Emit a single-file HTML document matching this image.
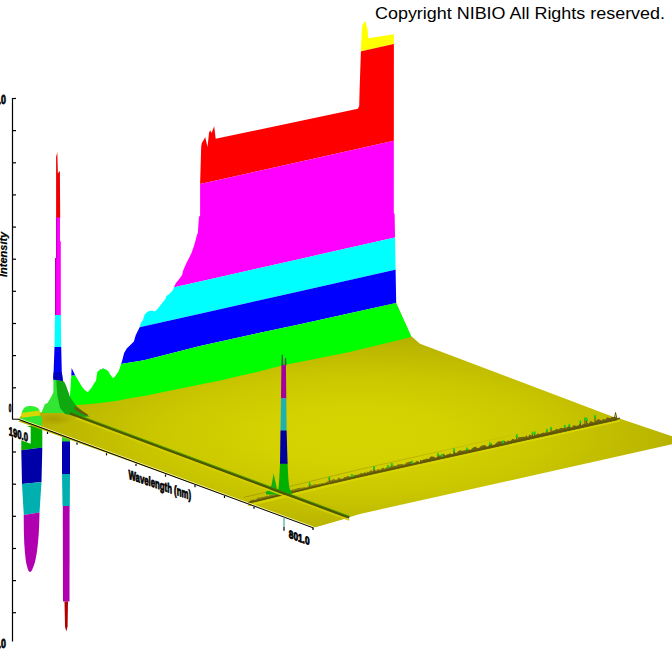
<!DOCTYPE html>
<html><head><meta charset="utf-8"><style>
html,body{margin:0;padding:0;background:#fff;width:672px;height:672px;overflow:hidden}
svg{display:block}
text{font-family:"Liberation Sans",sans-serif}
</style></head><body>
<svg width="672" height="672" viewBox="0 0 672 672">
<defs>
<clipPath id="wc"><polygon points="70.0,405.5 70.0,396.0 71.3,375.7 71.6,368.0 75.3,375.4 78.9,381.6 81.5,386.0 84.2,389.6 87.8,392.3 91.4,387.9 94.0,383.5 96.0,380.7 97.3,372.0 100.0,369.5 103.3,368.6 106.0,369.5 108.0,371.0 110.5,375.0 112.8,378.0 114.5,377.0 116.4,374.5 118.8,370.9 121.0,364.6 122.3,360.2 124.1,353.0 126.8,348.6 133.9,341.4 135.7,335.2 139.3,328.0 141.0,322.7 143.0,320.0 144.6,314.6 147.7,311.5 151.9,310.4 155.0,311.5 158.1,308.3 161.2,304.2 165.4,299.0 166.5,295.8 168.5,294.8 172.7,290.6 173.8,287.5 175.8,283.3 179.0,279.2 182.1,275.0 183.1,270.8 186.2,263.5 189.4,257.3 191.5,253.0 194.0,245.8 195.6,240.3 196.7,235.8 197.9,232.5 198.4,224.6 199.0,216.8 200.1,215.7 200.1,184.0 201.2,146.5 201.8,143.0 204.0,139.5 205.2,137.0 207.5,147.0 209.0,133.0 210.1,130.2 211.6,133.0 213.5,128.0 214.2,126.2 215.7,138.8 357.9,108.8 359.2,106.0 359.6,90.0 361.2,42.7 362.3,24.9 365.2,20.8 367.5,29.3 368.2,38.3 393.9,34.2 393.8,213.0 394.6,214.0 396.2,303.0 411.2,336.2 409.5,337.6 347.3,352.4 281.8,365.5 260.0,371.3 240.2,375.8 221.4,380.3 200.0,384.5 144.0,396.0 129.5,398.3 117.6,400.7 99.7,403.1 87.8,404.3 70.0,405.5"/></clipPath>
<radialGradient id="fg" cx="355" cy="435" r="400" gradientUnits="userSpaceOnUse" gradientTransform="matrix(1 0 0 0.2975 0 305.6)">
<stop offset="0.00" stop-color="#d6d400"/><stop offset="0.25" stop-color="#d3d100"/><stop offset="0.50" stop-color="#cac700"/><stop offset="0.75" stop-color="#bbb600"/><stop offset="1.00" stop-color="#a69f00"/>
</radialGradient>
<linearGradient id="fsg" x1="40" y1="0" x2="340" y2="0" gradientUnits="userSpaceOnUse"><stop offset="0" stop-color="#c2bc00"/><stop offset="0.5" stop-color="#ccc800"/><stop offset="1" stop-color="#d2ce00"/></linearGradient>
<linearGradient id="flg" x1="244" y1="0" x2="560" y2="0" gradientUnits="userSpaceOnUse"><stop offset="0" stop-color="#a09800" stop-opacity="0.75"/><stop offset="0.5" stop-color="#a09800" stop-opacity="0.5"/><stop offset="1" stop-color="#a09800" stop-opacity="0"/></linearGradient>
<radialGradient id="og"><stop offset="0" stop-color="#a89800" stop-opacity="0.85"/><stop offset="0.6" stop-color="#b0a400" stop-opacity="0.5"/><stop offset="1" stop-color="#b8b000" stop-opacity="0"/></radialGradient>
</defs>
<rect width="672" height="672" fill="#fff"/>
<text x="375" y="18.6" font-size="16.5" fill="#000" textLength="290" lengthAdjust="spacingAndGlyphs">Copyright NIBIO All Rights reserved.</text>
<polygon fill="#00b000" points="21.3,426.0 42.3,426.0 42.3,447.4 21.3,450.3"/><polygon fill="#0000a8" points="21.3,450.3 42.3,447.4 41.5,482.0 22.0,484.0"/><polygon fill="#00b0b0" points="22.0,484.0 41.5,482.0 39.5,512.5 23.8,515.0"/><path d="M23.75,515 L39.5,512.5 Q39,545 35,562 Q32,572 30,572 Q28,572 26,562 Q23.5,545 23.75,515 Z" fill="#b000b0"/><polygon fill="#0000b0" points="62.0,441.0 70.0,441.0 70.0,474.0 62.0,474.0"/><polygon fill="#00b0b0" points="62.0,474.0 70.0,474.0 69.8,506.0 62.5,506.0"/><polygon fill="#b000b0" points="62.8,506.0 69.6,506.0 69.5,601.5 63.0,601.5"/><polygon fill="#b00000" points="64.5,601.5 68.0,601.5 67.6,626.5 66.3,631.5 65.0,626.5"/><polygon fill="#30d030" points="62.0,436.0 70.0,436.0 70.0,441.5 62.0,441.5"/>
<polygon fill="url(#fg)" points="18.0,419.2 315.0,527.3 360.0,513.9 672.0,444.3 672.0,436.3 621.7,419.2 615.0,417.5 420.0,343.8 411.0,336.0 396.0,303.0 200.0,350.0 84.0,398.0 44.0,411.0 40.0,412.5 22.0,415.0"/>
<polygon fill="url(#fg)" points="18.0,421.2 315.0,527.3 349.3,517.6 60.0,409.6"/>

<g clip-path="url(#wc)"><polygon fill="#ffff00" points="40.0,-5.0 60.0,-5.0 76.0,-5.0 100.0,-5.0 122.3,-5.0 144.0,-5.0 200.0,-5.0 252.0,-5.0 300.0,-5.0 396.2,-5.0 430.0,-5.0 430.0,35.8 396.2,43.4 300.0,65.1 252.0,76.0 200.0,87.7 144.0,100.4 122.3,105.3 100.0,110.3 76.0,115.8 60.0,119.4 40.0,123.9"/><polygon fill="#ff0000" points="40.0,123.9 60.0,119.4 76.0,115.8 100.0,110.3 122.3,105.3 144.0,100.4 200.0,87.7 252.0,76.0 300.0,65.1 396.2,43.4 430.0,35.8 430.0,132.6 396.2,140.2 300.0,161.7 252.0,172.5 200.0,184.1 144.0,196.7 122.3,201.5 100.0,206.5 76.0,211.9 60.0,215.5 40.0,220.0"/><polygon fill="#ff00ff" points="40.0,220.0 60.0,215.5 76.0,211.9 100.0,206.5 122.3,201.5 144.0,196.7 200.0,184.1 252.0,172.5 300.0,161.7 396.2,140.2 430.0,132.6 430.0,229.6 396.2,237.2 300.0,258.9 252.0,269.7 200.0,281.4 144.0,294.0 122.3,298.9 100.0,304.0 76.0,309.4 60.0,313.0 40.0,317.5"/><polygon fill="#00ffff" points="40.0,317.5 60.0,313.0 76.0,309.4 100.0,304.0 122.3,298.9 144.0,294.0 200.0,281.4 252.0,269.7 300.0,258.9 396.2,237.2 430.0,229.6 430.0,261.9 396.2,269.5 300.0,291.2 252.0,302.0 200.0,313.7 144.0,326.3 122.3,331.2 100.0,336.2 76.0,341.7 60.0,345.3 40.0,349.8"/><polygon fill="#0000ff" points="40.0,349.8 60.0,345.3 76.0,341.7 100.0,336.2 122.3,331.2 144.0,326.3 200.0,313.7 252.0,302.0 300.0,291.2 396.2,269.5 430.0,261.9 430.0,296.0 396.2,303.1 300.0,324.2 252.0,334.5 200.0,346.0 144.0,360.2 122.3,363.8 100.0,369.4 76.0,375.5 60.0,376.0 40.0,376.6"/><polygon fill="#00ff00" points="40.0,376.6 60.0,376.0 76.0,375.5 100.0,369.4 122.3,363.8 144.0,360.2 200.0,346.0 252.0,334.5 300.0,324.2 396.2,303.1 430.0,296.0 430.0,700.0 396.2,700.0 300.0,700.0 252.0,700.0 200.0,700.0 144.0,700.0 122.3,700.0 100.0,700.0 76.0,700.0 60.0,700.0 40.0,700.0"/></g>
<ellipse cx="54" cy="419" rx="20" ry="7" fill="url(#og)"/><polygon fill="#33e633" points="53.4,379.8 58.0,379.8 59.0,392.0 62.0,405.0 64.0,413.0 41.4,413.0 43.1,408.4 44.9,404.0 47.6,403.0 51.2,396.8 53.4,392.3"/><polygon fill="#10a810" points="56.5,380.0 62.5,380.5 64.2,381.8 66.0,385.4 67.6,389.9 68.9,393.4 69.6,396.1 71.7,399.5 76.2,405.7 83.3,412.0 89.6,416.4 80.0,417.0 65.0,414.0 60.0,408.0 57.5,396.0 56.5,385.0"/><polygon fill="#6a5a10" points="74.4,406.6 80.0,409.5 87.8,414.6 87.0,416.2 80.0,412.7 74.0,408.7"/>
<polygon fill="#ee0000" points="56.1,218.0 56.1,157.0 57.3,152.1 57.9,173.6 59.3,171.0 59.9,172.0 60.2,218.0"/><polygon fill="#ff00ff" points="56.1,217.5 60.0,217.5 60.0,241.2 60.8,241.2 60.8,315.5 55.0,315.5 55.0,258.0 56.1,258.0"/><polygon fill="#00ffff" points="55.0,315.0 60.8,315.0 61.2,347.5 54.5,347.5"/><line x1="55.6" y1="258" x2="55.6" y2="315" stroke="#b000b0" stroke-width="1.1"/><line x1="56.6" y1="218" x2="56.6" y2="258" stroke="#c000c0" stroke-width="1"/><polygon fill="#0000f0" points="54.5,347.0 61.2,347.0 61.8,372.0 63.0,381.2 53.2,378.6 53.6,372.0"/><polygon fill="#0000b8" points="53.6,372.5 61.8,372.5 62.8,380.8 53.2,379.8"/>
<path d="M21.9,412 Q24,405 30.4,406 Q37,406 39.3,409.7 L40,414 L22,416 Z" fill="#2ef02e"/><polygon fill="#d8d800" points="21.0,413.0 39.5,410.5 40.0,416.0 22.0,418.0"/><polygon fill="#33e633" points="20.0,418.0 40.0,415.5 42.0,418.0 42.0,426.0 22.0,421.0"/>
<polygon fill="#8a8010" points="250.0,500.6 251.7,500.0 253.4,499.2 254.4,499.9 256.5,499.0 257.7,497.6 259.3,497.4 260.8,497.4 261.9,497.1 264.1,496.8 266.0,496.1 267.0,495.7 268.7,496.0 269.6,494.9 271.2,494.8 273.3,494.3 275.5,494.3 277.6,493.7 279.8,492.5 280.8,493.4 282.0,491.8 283.5,492.0 284.8,491.9 286.3,491.8 288.0,491.0 290.2,490.3 292.4,489.5 294.6,489.3 295.8,488.7 298.0,488.1 299.7,488.0 300.9,487.5 302.6,488.0 303.6,486.9 305.9,487.5 307.9,486.5 309.0,486.5 311.0,485.1 312.0,485.2 312.9,484.9 314.3,484.3 316.6,484.3 318.9,484.1 319.9,483.4 320.8,483.8 322.3,482.8 323.4,483.4 325.5,482.5 327.8,481.0 329.2,481.4 330.0,484.1 250.0,503.2"/><polygon fill="#7a7012" points="330.0,480.5 331.7,480.3 333.5,479.0 335.1,479.8 337.0,479.7 338.3,477.8 340.0,478.4 340.9,478.4 342.6,478.9 344.4,477.1 345.3,476.9 346.9,476.4 348.3,476.0 350.2,477.1 351.2,475.4 353.5,475.8 355.0,474.7 356.3,474.9 357.7,474.5 359.4,474.3 360.8,472.9 361.8,473.2 363.7,473.3 364.9,471.9 366.2,473.0 367.7,471.6 368.7,472.2 370.1,470.7 371.6,470.3 372.7,471.2 374.5,469.6 376.1,470.7 377.1,469.8 378.3,469.0 380.4,469.9 381.7,468.2 383.5,467.8 384.9,469.0 386.2,467.2 387.4,467.9 388.9,467.5 390.4,466.0 391.5,467.8 393.7,465.4 396.0,465.9 398.2,464.3 399.5,464.4 401.5,464.1 403.2,464.6 404.5,464.4 405.5,463.4 406.8,462.6 407.8,462.2 409.7,461.7 411.8,461.3 413.5,462.9 415.5,462.1 416.8,460.7 418.4,460.9 420.0,463.9 330.0,484.3"/><polygon fill="#6e6212" points="420.0,459.8 421.4,460.5 423.5,459.4 425.5,459.3 426.7,458.5 428.7,459.1 430.7,456.5 432.7,456.4 433.6,456.7 435.8,457.8 437.0,457.0 438.7,456.2 440.2,454.8 441.1,456.6 442.2,456.2 443.2,453.6 445.3,455.6 446.9,454.6 448.2,454.2 450.1,453.2 451.5,454.0 452.8,453.9 454.5,451.8 455.9,453.3 457.1,452.2 458.8,450.7 460.3,450.3 462.0,450.9 463.5,450.5 465.3,450.2 467.2,449.7 468.5,449.2 470.3,450.1 471.8,448.8 474.0,446.9 475.4,446.7 477.4,448.0 478.9,448.1 481.0,446.1 483.1,445.3 484.9,445.0 486.6,446.4 488.4,446.3 489.5,443.9 490.4,445.6 491.5,443.2 492.6,445.3 494.7,444.6 496.8,442.6 498.8,441.3 500.6,441.4 501.5,441.2 503.1,441.0 504.2,440.7 506.4,442.1 507.7,440.4 509.8,440.9 510.9,440.6 512.7,438.8 514.2,439.6 515.6,439.3 517.1,439.7 518.7,436.9 520.2,437.2 521.3,437.1 523.3,436.7 524.9,436.9 526.7,435.3 527.8,437.3 529.7,434.6 531.4,435.5 533.3,435.8 534.5,435.5 536.3,434.8 537.5,433.5 539.7,434.1 541.6,433.3 543.7,432.4 545.0,433.1 545.9,432.2 547.3,432.7 548.8,432.0 550.7,432.1 553.0,430.6 554.8,430.3 556.8,428.8 558.5,429.4 560.4,427.9 561.9,427.9 564.1,428.2 565.3,428.6 567.3,426.9 569.5,425.9 570.7,427.5 572.0,427.2 573.9,424.9 576.0,426.1 578.2,425.5 579.6,424.0 580.7,425.6 582.7,424.6 584.1,423.4 586.0,424.6 587.3,423.1 588.9,423.4 590.6,420.9 592.1,421.8 593.2,422.3 595.0,422.3 597.1,419.6 598.2,419.3 599.6,419.5 601.6,420.4 603.4,419.0 605.4,419.6 607.4,417.2 609.2,418.0 610.3,417.9 611.7,416.9 613.5,417.0 614.7,416.5 616.5,417.4 617.0,420.4 420.0,464.1"/>
<polyline points="248,505.5 360,478.5 620,420.8" stroke="#dad600" stroke-width="1.6" fill="none"/>
<polyline points="248,502.8 360,476 620,418.3" stroke="#5e5600" stroke-width="1.6" fill="none"/>
<polyline points="614.5,418.6 615.5,412.5 617,419" stroke="#5e5600" stroke-width="1" fill="none"/>
<polyline points="244,497.4 360,469.3 560,424.3" stroke="url(#flg)" stroke-width="1" fill="none"/>
<line x1="309.6" y1="486.8" x2="309.6" y2="483.8" stroke="#5a5410" stroke-width="1.1"/><polygon fill="#20c820" points="308.3,485.0 309.0,482.4 309.6,481.8 310.2,482.4 310.9,485.0"/><line x1="329.3" y1="482.1" x2="329.3" y2="478.1" stroke="#5a5410" stroke-width="1.1"/><polygon fill="#20c820" points="328.0,479.3 328.7,476.7 329.3,476.1 329.9,476.7 330.6,479.3"/><line x1="352.0" y1="476.7" x2="352.0" y2="475.7" stroke="#5a5410" stroke-width="1.1"/><polygon fill="#20c820" points="350.7,476.9 351.4,474.3 352.0,473.7 352.6,474.3 353.3,476.9"/><line x1="374.0" y1="471.7" x2="374.0" y2="467.7" stroke="#5a5410" stroke-width="1.1"/><polygon fill="#20c820" points="372.7,468.9 373.4,466.3 374.0,465.7 374.6,466.3 375.3,468.9"/><line x1="388.0" y1="468.6" x2="388.0" y2="466.6" stroke="#5a5410" stroke-width="1.1"/><polygon fill="#20c820" points="386.7,467.8 387.4,465.2 388.0,464.6 388.6,465.2 389.3,467.8"/><line x1="391.8" y1="467.7" x2="391.8" y2="464.7" stroke="#5a5410" stroke-width="1.1"/><polygon fill="#20c820" points="390.5,465.9 391.2,463.3 391.8,462.7 392.4,463.3 393.1,465.9"/><line x1="412.0" y1="463.3" x2="412.0" y2="462.3" stroke="#5a5410" stroke-width="1.1"/><polygon fill="#20c820" points="410.7,463.5 411.4,460.9 412.0,460.3 412.6,460.9 413.3,463.5"/><line x1="438.0" y1="457.5" x2="438.0" y2="454.5" stroke="#5a5410" stroke-width="1.1"/><polygon fill="#20c820" points="436.7,455.7 437.4,453.1 438.0,452.5 438.6,453.1 439.3,455.7"/><line x1="442.0" y1="456.6" x2="442.0" y2="455.6" stroke="#5a5410" stroke-width="1.1"/><polygon fill="#20c820" points="440.7,456.8 441.4,454.2 442.0,453.6 442.6,454.2 443.3,456.8"/><line x1="454.0" y1="453.9" x2="454.0" y2="449.9" stroke="#5a5410" stroke-width="1.1"/><polygon fill="#20c820" points="452.7,451.1 453.4,448.5 454.0,447.9 454.6,448.5 455.3,451.1"/><line x1="466.8" y1="451.1" x2="466.8" y2="449.1" stroke="#5a5410" stroke-width="1.1"/><polygon fill="#20c820" points="465.5,450.3 466.2,447.7 466.8,447.1 467.4,447.7 468.1,450.3"/><line x1="490.0" y1="445.9" x2="490.0" y2="443.9" stroke="#5a5410" stroke-width="1.1"/><polygon fill="#20c820" points="488.7,445.1 489.4,442.6 490.0,441.9 490.6,442.6 491.3,445.1"/><line x1="503.0" y1="443.1" x2="503.0" y2="442.1" stroke="#5a5410" stroke-width="1.1"/><polygon fill="#20c820" points="501.7,443.3 502.4,440.7 503.0,440.1 503.6,440.7 504.3,443.3"/><line x1="516.8" y1="440.0" x2="516.8" y2="436.0" stroke="#5a5410" stroke-width="1.1"/><polygon fill="#20c820" points="515.5,437.2 516.2,434.6 516.8,434.0 517.4,434.6 518.1,437.2"/><line x1="532.5" y1="436.5" x2="532.5" y2="433.5" stroke="#5a5410" stroke-width="1.1"/><polygon fill="#20c820" points="531.2,434.7 531.9,432.1 532.5,431.5 533.1,432.1 533.8,434.7"/><line x1="534.7" y1="436.0" x2="534.7" y2="433.0" stroke="#5a5410" stroke-width="1.1"/><polygon fill="#20c820" points="533.4,434.2 534.1,431.6 534.7,431.0 535.3,431.6 536.0,434.2"/><line x1="547.0" y1="433.3" x2="547.0" y2="430.3" stroke="#5a5410" stroke-width="1.1"/><polygon fill="#20c820" points="545.7,431.5 546.4,428.9 547.0,428.3 547.6,428.9 548.3,431.5"/><line x1="551.0" y1="432.4" x2="551.0" y2="428.4" stroke="#5a5410" stroke-width="1.1"/><polygon fill="#20c820" points="549.7,429.6 550.4,427.0 551.0,426.4 551.6,427.0 552.3,429.6"/><line x1="564.8" y1="429.4" x2="564.8" y2="426.4" stroke="#5a5410" stroke-width="1.1"/><polygon fill="#20c820" points="563.5,427.6 564.2,425.0 564.8,424.4 565.4,425.0 566.1,427.6"/><line x1="569.3" y1="428.4" x2="569.3" y2="425.4" stroke="#5a5410" stroke-width="1.1"/><polygon fill="#20c820" points="568.0,426.6 568.7,424.0 569.3,423.4 569.9,424.0 570.6,426.6"/><line x1="580.4" y1="425.9" x2="580.4" y2="421.9" stroke="#5a5410" stroke-width="1.1"/><polygon fill="#20c820" points="579.1,423.1 579.8,420.5 580.4,419.9 581.0,420.5 581.7,423.1"/><line x1="585.0" y1="424.9" x2="585.0" y2="418.9" stroke="#5a5410" stroke-width="1.1"/><polygon fill="#20c820" points="583.7,420.1 584.4,417.5 585.0,416.9 585.6,417.5 586.3,420.1"/><line x1="586.7" y1="424.5" x2="586.7" y2="419.5" stroke="#5a5410" stroke-width="1.1"/><polygon fill="#20c820" points="585.4,420.7 586.1,418.1 586.7,417.5 587.3,418.1 588.0,420.7"/><line x1="595.0" y1="422.6" x2="595.0" y2="416.6" stroke="#5a5410" stroke-width="1.1"/><polygon fill="#20c820" points="593.7,417.8 594.4,415.2 595.0,414.6 595.6,415.2 596.3,417.8"/>
<polyline points="282,365.5 282.3,354.7 282.8,365" stroke="#406040" stroke-width="1.2" fill="none"/><polyline points="285,365.5 285.5,358 286,365" stroke="#406040" stroke-width="1.2" fill="none"/><polygon fill="#a000a0" points="281.4,365.0 285.9,365.0 286.3,398.5 281.0,398.5"/><polygon fill="#20b0b0" points="281.0,398.2 286.3,398.2 286.6,430.8 280.5,430.8"/><polygon fill="#0000a0" points="280.5,430.6 286.6,430.6 287.6,463.9 280.0,463.9"/><polygon fill="#00b000" points="280.0,463.7 287.6,463.7 288.3,478.0 289.2,487.0 290.5,491.0 293.0,493.5 276.0,494.5 278.5,489.0 279.3,478.0"/><polygon fill="#10b010" points="266.0,492.0 270.0,489.5 271.8,484.0 273.6,473.5 275.2,481.0 277.0,489.0 279.0,492.0 279.0,494.5 266.0,494.5"/>
<polyline points="70,413.4 349.3,517.6" stroke="#505800" stroke-width="2.6" fill="none"/>
<polyline points="76,418.2 349.3,520.1" stroke="#d4d000" stroke-width="1.5" fill="none"/>
<polyline points="72,412.7 349.3,516.2" stroke="#30a000" stroke-width="0.9" fill="none" opacity="0.8"/>
<polygon fill="#ffffff" points="9.0,421.0 30.7,427.2 30.7,443.7 12.6,437.2 9.0,437.0"/>
<polyline points="18,418.2 313.6,527" stroke="#f4f0a0" stroke-width="1" fill="none"/>
<g stroke="#000" stroke-width="1.2" fill="none">
<line x1="12.5" y1="97.9" x2="12.5" y2="419.5"/>
<line x1="12.5" y1="437.2" x2="12.5" y2="641.5"/>
<line x1="12.5" y1="98.5" x2="16" y2="98.5"/><line x1="12.5" y1="130.6" x2="16" y2="130.6"/><line x1="12.5" y1="162.8" x2="16" y2="162.8"/><line x1="12.5" y1="194.9" x2="16" y2="194.9"/><line x1="12.5" y1="227.1" x2="16" y2="227.1"/><line x1="12.5" y1="259.2" x2="16" y2="259.2"/><line x1="12.5" y1="291.3" x2="16" y2="291.3"/><line x1="12.5" y1="323.5" x2="16" y2="323.5"/><line x1="12.5" y1="355.6" x2="16" y2="355.6"/><line x1="12.5" y1="387.8" x2="16" y2="387.8"/><line x1="12.5" y1="452.0" x2="16" y2="452.0"/><line x1="12.5" y1="484.2" x2="16" y2="484.2"/><line x1="12.5" y1="516.3" x2="16" y2="516.3"/><line x1="12.5" y1="548.5" x2="16" y2="548.5"/><line x1="12.5" y1="580.6" x2="16" y2="580.6"/><line x1="12.5" y1="612.7" x2="16" y2="612.7"/>
<line x1="47.5" y1="431.8" x2="47.5" y2="434.0"/><line x1="77.0" y1="442.5" x2="77.0" y2="444.7"/><line x1="106.5" y1="453.2" x2="106.5" y2="455.4"/><line x1="136.0" y1="463.8" x2="136.0" y2="466.0"/><line x1="165.5" y1="474.5" x2="165.5" y2="476.7"/><line x1="195.0" y1="485.1" x2="195.0" y2="487.3"/><line x1="224.5" y1="495.8" x2="224.5" y2="498.0"/><line x1="254.0" y1="506.5" x2="254.0" y2="508.7"/><line x1="313.0" y1="527.8" x2="313.0" y2="530.0"/>
<polyline points="12.5,419.2 18,419.2 313.6,528" stroke-width="1"/>
</g>
<line x1="284" y1="517.4" x2="284" y2="527" stroke="#40b080" stroke-width="1.2"/>
<line x1="284" y1="527" x2="284" y2="530.8" stroke="#000" stroke-width="1.2"/>
<g font-weight="bold" fill="#000" stroke="#000" stroke-width="0.8">
<g transform="translate(8.8,434.9) skewY(19.86) scale(0.64,1)"><text x="0" y="0" font-size="12">190.0</text></g>
<g transform="translate(288.8,537.8) skewY(19.86) scale(0.74,1)"><text x="0" y="0" font-size="11.2">801.0</text></g>
<g transform="translate(128.5,478.8) skewY(18.7) scale(0.6,1)"><text x="0" y="0" font-size="13">Wavelength (nm)</text></g>
<text transform="translate(6.5,277) rotate(-90)" font-size="11" font-style="italic" stroke-width="0.2">Intensity</text>
<g transform="translate(5.9,103.7) scale(0.68,1)"><text x="0" y="0" font-size="13" text-anchor="end">1.0</text></g>
<g transform="translate(5.9,647.9) scale(0.68,1)"><text x="0" y="0" font-size="13" text-anchor="end">1.0</text></g>
<g transform="translate(11.4,412) scale(0.42,1)"><text x="0" y="0" font-size="11" text-anchor="end">0</text></g>
</g>
</svg>
</body></html>
